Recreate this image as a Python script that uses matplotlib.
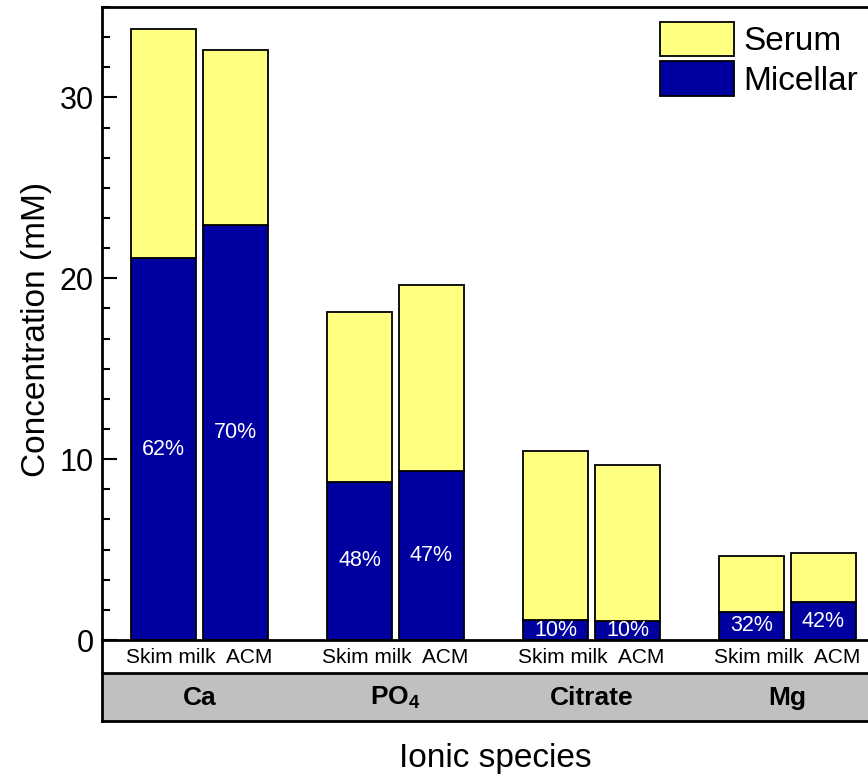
import matplotlib
matplotlib.use("Agg")
import matplotlib.pyplot as plt
import numpy as np
from matplotlib.patches import Patch, Rectangle
from matplotlib.ticker import MultipleLocator
from matplotlib.lines import Line2D

plt.rcParams['font.family'] = ['Liberation Sans', 'DejaVu Sans']
plt.rcParams['mathtext.fontset'] = 'custom'
plt.rcParams['mathtext.rm'] = 'Liberation Sans'
plt.rcParams['mathtext.bf'] = 'Liberation Sans:bold'

# ---- data ----
species = ["Ca", r"$\mathbf{PO_4}$", "Citrate", "Mg"]
samples = ["Skim milk", "ACM"]
micellar_skim = [21.1, 8.75, 1.1, 1.55]
micellar_acm = [22.95, 9.35, 1.05, 2.1]
total_skim = [33.8, 18.15, 10.45, 4.65]
total_acm = [32.6, 19.65, 9.7, 4.8]
pct_skim = ["62%", "48%", "10%", "32%"]
pct_acm = ["70%", "47%", "10%", "42%"]

yellow = "#FFFF80"
navy = "#0000A0"

W, H = 868, 777
fig = plt.figure(figsize=(W / 100, H / 100), dpi=100)
ax_l, ax_t, ax_b = 102, 7, 640
ax = fig.add_axes([ax_l / W, 1 - ax_b / H, 1 - ax_l / W, (ax_b - ax_t) / H])

x = np.arange(len(species))
off = 36 / 196
bw = 65 / 196
serum_skim = [t - m for t, m in zip(total_skim, micellar_skim)]
serum_acm = [t - m for t, m in zip(total_acm, micellar_acm)]

kw = dict(width=bw, edgecolor="black", linewidth=1.3)
ax.bar(x - off, micellar_skim, color=navy, **kw)
ax.bar(x - off, serum_skim, bottom=micellar_skim, color=yellow, **kw)
ax.bar(x + off, micellar_acm, color=navy, **kw)
ax.bar(x + off, serum_acm, bottom=micellar_acm, color=yellow, **kw)

for i in range(len(species)):
    ax.text(x[i] - off, micellar_skim[i] / 2, pct_skim[i], color="white",
            ha="center", va="center", fontsize=15.5)
    ax.text(x[i] + off, micellar_acm[i] / 2, pct_acm[i], color="white",
            ha="center", va="center", fontsize=15.5)

ax.set_xlim((ax_l - 199.5) / 196, (W - 199.5) / 196)
ax.set_ylim(0, 35)
ax.yaxis.set_major_locator(MultipleLocator(10))
ax.yaxis.set_minor_locator(MultipleLocator(10 / 6))
ax.tick_params(axis="y", which="major", direction="in", length=11, width=1.5,
               labelsize=22, pad=6)
ax.tick_params(axis="y", which="minor", direction="in", length=6, width=1.5)
ax.set_xticks(x)
ax.set_xticklabels(["  ".join(samples)] * len(species), fontsize=15)
ax.tick_params(axis="x", length=0, pad=6)
for s in ["left", "top", "bottom"]:
    ax.spines[s].set_linewidth(2)
ax.spines["right"].set_visible(False)

# category band below the axis
band_top = (ax_b - 673) / (ax_b - ax_t)
band_bot = (ax_b - 721) / (ax_b - ax_t)
ax.add_patch(Rectangle((0, band_bot), 1.01, band_top - band_bot, transform=ax.transAxes,
                       facecolor="#C0C0C0", edgecolor="none", clip_on=False, zorder=0))
for yy in (band_top, band_bot):
    ax.add_line(Line2D([0, 1.01], [yy, yy], transform=ax.transAxes, color="black",
                       linewidth=2, clip_on=False))
ax.add_line(Line2D([0, 0], [0, band_bot], transform=ax.transAxes, color="black",
                   linewidth=2, clip_on=False))
for i, name in enumerate(species):
    ax.text(x[i], (ax_b - 698) / (ax_b - ax_t), name, ha="center", va="center",
            fontsize=19, fontweight="bold", transform=ax.get_xaxis_transform())

fig.text(37 / W, 1 - 329 / H, "Concentration (mM)", rotation=90, ha="center",
         va="center", fontsize=24)
fig.text(495 / W, 1 - 767 / H, "Ionic species", ha="center", va="baseline", fontsize=24)

handles = [Patch(facecolor=yellow, edgecolor="black", linewidth=1.3, label="Serum"),
           Patch(facecolor=navy, edgecolor="black", linewidth=1.3, label="Micellar")]
ax.legend(handles=handles, loc="upper left", bbox_to_anchor=(660 / W, 1 - 22 / H),
          bbox_transform=fig.transFigure, frameon=False, fontsize=24,
          handlelength=2.22, handleheight=1.2, handletextpad=0.27,
          labelspacing=0.12, borderpad=0, borderaxespad=0)

fig.savefig("out.png", dpi=100)
